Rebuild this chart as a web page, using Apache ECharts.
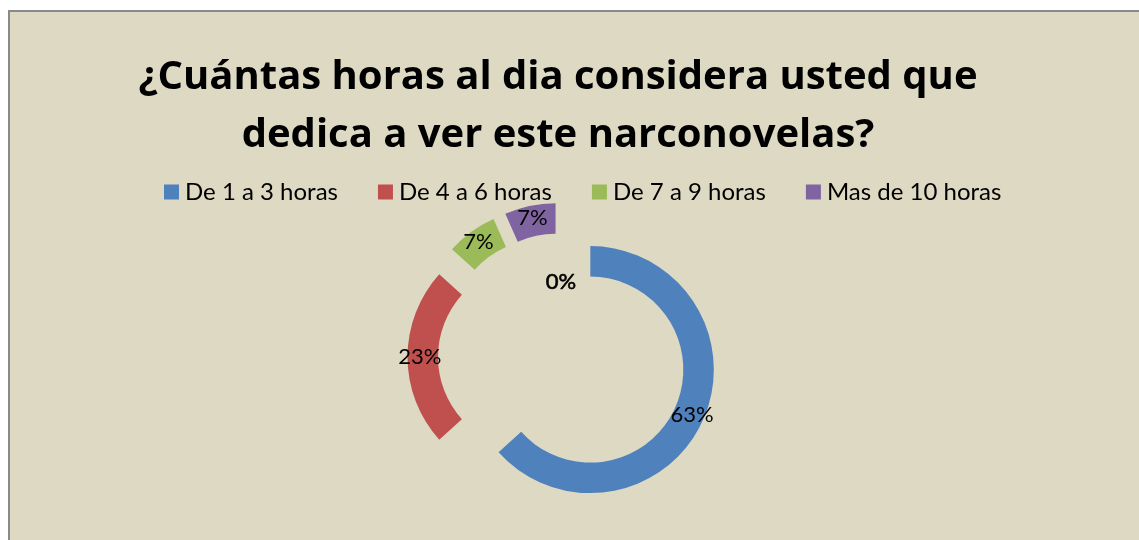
<!DOCTYPE html>
<html>
<head>
<meta charset="utf-8">
<script src="https://cdn.jsdelivr.net/npm/echarts@6/dist/echarts.min.js"></script>
<style>
  html, body { margin: 0; padding: 0; background: #fff; overflow: hidden; }
  #bg {
    position: absolute; left: 8px; top: 10px; width: 1200px; height: 600px;
    background: #ddd9c3; border-left: 2px solid #8a8a8a; border-top: 2px solid #8a8a8a;
  }
  #chart { position: absolute; left: 0; top: 0; width: 1139px; height: 540px; }
</style>
</head>
<body>
<div id="bg"></div>
<div id="chart"></div>
<script>
const titleText = '¿Cuántas horas al dia considera usted que\ndedica a ver este narconovelas?'
const categories = ['De 1 a 3 horas', 'De 4 a 6 horas', 'De 7 a 9 horas', 'Mas de 10 horas', '']
const counts = [19, 7, 2, 2, 0]
const colors = ['#4f81bd', '#c0504d', '#9bbb59', '#8064a2', '#4bacc6']

const chart = echarts.init(document.getElementById('chart'))

chart.setOption({
  animation: false,
  color: colors,
  title: {
    text: titleText,
    left: 553,
    top: 44,
    textAlign: 'center',
    textStyle: {
      fontFamily: 'Open Sans',
      fontWeight: 'bold',
      fontSize: 40,
      lineHeight: 58,
      color: '#000'
    }
  },
  legend: {
    data: categories.slice(0, 4),
    left: 159,
    top: 175,
    itemWidth: 15,
    itemHeight: 15,
    itemGap: 40,
    icon: 'rect',
    textStyle: { fontFamily: 'Lato', fontSize: 24, color: '#000', padding: [0, 0, 0, 1] }
  },
  series: [
    {
      type: 'pie',
      center: [562, 357],
      radius: [93, 123.5],
      startAngle: 90,
      selectedMode: 'multiple',
      selectedOffset: 31,
      emphasis: { disabled: true },
      label: {
        show: true,
        position: 'inside',
        fontFamily: 'Lato',
        fontSize: 22,
        color: '#000',
        formatter: (p) => Math.round(p.percent) + '%'
      },
      labelLine: { show: false },
      labelLayout: (p) => (p.dataIndex === 4 ? { dy: 36, dx: -1 } : {}),
      data: categories.map((name, i) => ({
        name: name,
        value: counts[i],
        selected: counts[i] > 0,
        label: counts[i] > 0 ? undefined : { textBorderColor: '#000', textBorderWidth: 0.6 }
      }))
    }
  ]
})
</script>
</body>
</html>
